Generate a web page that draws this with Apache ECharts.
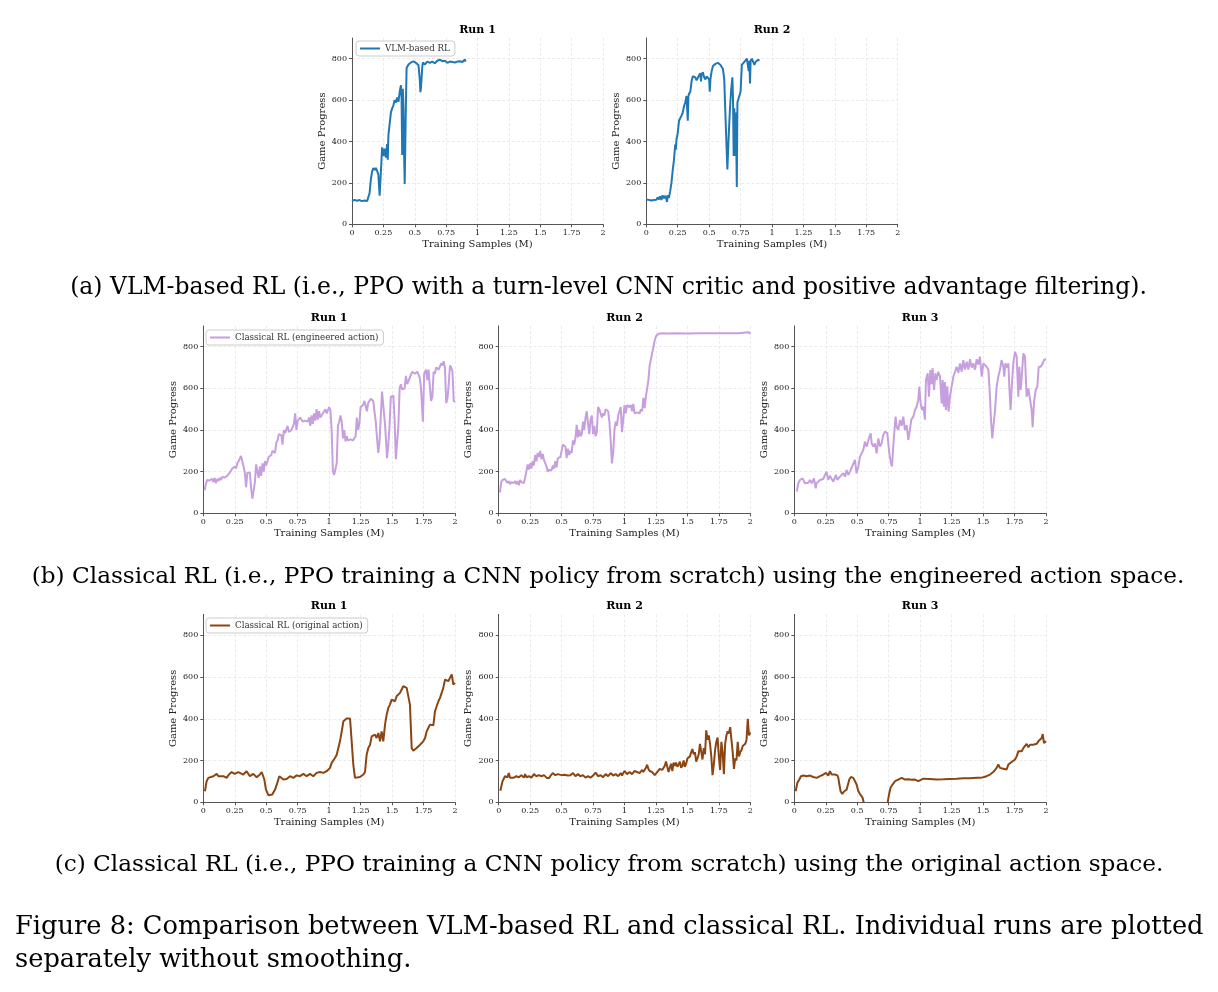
<!DOCTYPE html>
<html>
<head>
<meta charset="utf-8">
<script src="https://cdn.jsdelivr.net/npm/echarts@6/dist/echarts.min.js"></script>
<style>
html,body{margin:0;padding:0;background:#fff;}
#main{width:1218px;height:992px;}
</style>
</head>
<body>
<div id="main"></div>
<script>
// ---- data: [training samples (M), game progress] ----
var vlmRun1 = [[0,113],[0.02,118],[0.04,114],[0.06,117],[0.08,112],[0.10,115],[0.12,112],[0.13,118],[0.14,150],[0.15,215],[0.16,255],[0.17,272],[0.18,262],[0.19,272],[0.20,258],[0.21,240],[0.22,138],[0.23,250],[0.24,372],[0.25,330],[0.26,365],[0.27,322],[0.28,388],[0.285,312],[0.29,430],[0.30,485],[0.31,540],[0.32,560],[0.33,575],[0.34,600],[0.35,588],[0.36,612],[0.37,592],[0.38,640],[0.39,672],[0.395,610],[0.40,335],[0.405,655],[0.41,560],[0.415,340],[0.42,195],[0.43,600],[0.435,755],[0.45,772],[0.47,782],[0.49,787],[0.51,780],[0.53,768],[0.54,700],[0.545,638],[0.55,662],[0.56,762],[0.565,782],[0.58,772],[0.60,786],[0.62,780],[0.64,786],[0.66,778],[0.68,790],[0.70,795],[0.72,788],[0.74,790],[0.76,780],[0.78,786],[0.80,784],[0.82,782],[0.84,786],[0.86,788],[0.88,784],[0.90,796],[0.905,786]];
var vlmRun2 = [[0,120],[0.02,118],[0.04,115],[0.06,117],[0.08,118],[0.09,130],[0.10,120],[0.11,135],[0.12,118],[0.13,140],[0.14,125],[0.15,138],[0.16,122],[0.165,108],[0.17,140],[0.18,128],[0.19,160],[0.20,200],[0.21,260],[0.22,310],[0.23,385],[0.235,360],[0.24,410],[0.25,440],[0.26,500],[0.27,505],[0.28,525],[0.29,540],[0.30,570],[0.31,590],[0.32,620],[0.325,560],[0.33,500],[0.335,620],[0.34,630],[0.35,640],[0.36,690],[0.37,715],[0.38,720],[0.39,710],[0.40,695],[0.41,700],[0.42,720],[0.43,730],[0.435,690],[0.44,725],[0.45,735],[0.46,710],[0.47,700],[0.48,715],[0.49,710],[0.50,700],[0.505,640],[0.51,700],[0.52,740],[0.53,765],[0.55,775],[0.57,780],[0.59,770],[0.61,750],[0.62,700],[0.63,520],[0.645,265],[0.655,420],[0.665,550],[0.675,650],[0.685,710],[0.69,600],[0.695,330],[0.70,560],[0.705,330],[0.71,540],[0.715,430],[0.72,180],[0.725,590],[0.74,620],[0.75,640],[0.76,770],[0.78,785],[0.79,780],[0.80,800],[0.81,760],[0.815,740],[0.82,790],[0.825,680],[0.83,790],[0.84,800],[0.85,795],[0.86,770],[0.87,785],[0.88,780],[0.89,795],[0.90,790]];

var engRun1 = [[0.01,110],[0.02,140],[0.03,160],[0.05,158],[0.06,150],[0.07,165],[0.08,150],[0.09,170],[0.10,145],[0.11,165],[0.12,155],[0.13,170],[0.14,160],[0.15,175],[0.17,172],[0.19,180],[0.21,195],[0.23,215],[0.24,210],[0.25,225],[0.26,215],[0.27,240],[0.28,250],[0.29,245],[0.30,275],[0.31,250],[0.32,225],[0.33,195],[0.34,125],[0.35,195],[0.36,200],[0.37,195],[0.38,120],[0.39,70],[0.40,75],[0.41,150],[0.42,235],[0.43,200],[0.44,170],[0.45,225],[0.46,180],[0.47,240],[0.48,200],[0.49,250],[0.50,230],[0.52,270],[0.54,280],[0.55,300],[0.57,290],[0.58,340],[0.59,350],[0.60,380],[0.62,375],[0.63,330],[0.64,400],[0.65,385],[0.67,420],[0.68,390],[0.70,400],[0.72,430],[0.73,480],[0.74,400],[0.75,445],[0.77,460],[0.79,440],[0.81,445],[0.83,440],[0.84,460],[0.85,420],[0.86,470],[0.87,430],[0.88,480],[0.89,445],[0.90,500],[0.91,450],[0.92,490],[0.93,460],[0.95,480],[0.97,500],[0.98,480],[1.00,510],[1.01,495],[1.02,400],[1.03,200],[1.04,185],[1.05,190],[1.06,240],[1.07,420],[1.08,440],[1.09,470],[1.10,440],[1.11,360],[1.12,400],[1.13,345],[1.14,370],[1.15,350],[1.17,355],[1.19,350],[1.21,370],[1.22,460],[1.23,400],[1.24,430],[1.25,510],[1.27,520],[1.28,540],[1.30,490],[1.31,530],[1.33,550],[1.35,540],[1.37,440],[1.39,290],[1.40,340],[1.42,585],[1.43,580],[1.445,420],[1.46,265],[1.47,330],[1.48,420],[1.49,560],[1.51,565],[1.52,450],[1.53,260],[1.54,255],[1.55,420],[1.56,600],[1.57,620],[1.58,595],[1.60,600],[1.61,660],[1.62,620],[1.64,650],[1.66,680],[1.68,670],[1.70,680],[1.72,650],[1.73,600],[1.745,440],[1.755,670],[1.77,690],[1.78,640],[1.79,690],[1.80,610],[1.81,540],[1.82,560],[1.83,680],[1.84,670],[1.85,700],[1.87,690],[1.89,720],[1.90,710],[1.91,730],[1.92,700],[1.93,530],[1.94,550],[1.95,620],[1.96,710],[1.97,700],[1.98,680],[1.99,540],[2.0,535]];
var engRun2 = [[0.01,100],[0.02,150],[0.03,160],[0.05,165],[0.06,160],[0.07,145],[0.08,155],[0.09,140],[0.10,150],[0.12,145],[0.13,155],[0.14,140],[0.15,155],[0.16,135],[0.17,160],[0.18,150],[0.19,155],[0.20,145],[0.21,140],[0.22,200],[0.23,235],[0.24,210],[0.25,240],[0.26,215],[0.27,250],[0.28,230],[0.29,280],[0.30,250],[0.31,290],[0.32,270],[0.33,300],[0.34,260],[0.35,285],[0.36,255],[0.37,250],[0.38,225],[0.39,200],[0.40,210],[0.42,205],[0.43,230],[0.44,215],[0.45,250],[0.46,220],[0.47,265],[0.49,270],[0.50,300],[0.51,330],[0.52,335],[0.53,320],[0.54,265],[0.55,310],[0.56,280],[0.57,300],[0.58,290],[0.59,350],[0.60,330],[0.61,360],[0.62,425],[0.63,365],[0.64,400],[0.65,370],[0.66,380],[0.67,440],[0.68,400],[0.69,460],[0.70,490],[0.71,430],[0.72,380],[0.73,450],[0.74,470],[0.75,380],[0.76,420],[0.77,370],[0.78,390],[0.79,510],[0.80,500],[0.81,480],[0.82,460],[0.83,480],[0.84,470],[0.85,500],[0.86,495],[0.87,490],[0.88,440],[0.89,350],[0.90,240],[0.91,290],[0.92,400],[0.93,440],[0.94,420],[0.95,470],[0.96,490],[0.97,510],[0.98,390],[0.99,450],[1.00,520],[1.01,480],[1.02,520],[1.04,510],[1.05,520],[1.06,490],[1.07,525],[1.08,480],[1.10,485],[1.12,480],[1.13,500],[1.14,490],[1.15,555],[1.16,505],[1.17,560],[1.18,600],[1.19,640],[1.20,710],[1.21,740],[1.22,770],[1.23,765],[1.24,830],[1.25,850],[1.27,862],[1.30,865],[1.35,863],[1.40,865],[1.50,864],[1.60,865],[1.70,865],[1.80,865],[1.90,865],[1.99,870],[2.0,860]];
var engRun3 = [[0.019,104],[0.032,144],[0.045,160],[0.066,168],[0.085,144],[0.111,147],[0.125,160],[0.138,144],[0.156,168],[0.17,120],[0.177,144],[0.204,160],[0.23,165],[0.244,184],[0.257,200],[0.27,160],[0.283,180],[0.297,176],[0.31,152],[0.331,184],[0.342,160],[0.363,176],[0.376,168],[0.389,192],[0.403,176],[0.416,208],[0.429,184],[0.442,200],[0.456,192],[0.482,256],[0.495,192],[0.509,224],[0.522,272],[0.548,304],[0.561,344],[0.575,320],[0.593,360],[0.607,384],[0.615,336],[0.628,320],[0.641,336],[0.654,288],[0.668,360],[0.681,320],[0.694,336],[0.707,376],[0.72,392],[0.739,385],[0.755,288],[0.768,240],[0.776,225],[0.792,370],[0.805,464],[0.813,414],[0.826,400],[0.84,448],[0.853,420],[0.866,464],[0.879,400],[0.893,424],[0.906,352],[0.919,344],[0.93,450],[0.946,464],[0.959,496],[0.972,512],[0.985,544],[0.993,608],[1.004,528],[1.015,496],[1.025,512],[1.038,450],[1.046,640],[1.06,672],[1.07,560],[1.081,688],[1.091,620],[1.099,696],[1.11,592],[1.121,672],[1.131,640],[1.144,680],[1.158,656],[1.171,528],[1.179,640],[1.189,512],[1.197,630],[1.205,496],[1.216,610],[1.226,488],[1.237,560],[1.25,608],[1.264,656],[1.277,680],[1.29,704],[1.303,675],[1.317,720],[1.33,680],[1.343,736],[1.356,690],[1.37,728],[1.383,690],[1.396,740],[1.409,700],[1.422,720],[1.436,690],[1.449,740],[1.462,715],[1.475,752],[1.489,656],[1.502,720],[1.515,728],[1.528,704],[1.542,690],[1.555,560],[1.563,448],[1.573,360],[1.581,352],[1.595,496],[1.608,608],[1.621,656],[1.634,688],[1.647,736],[1.661,704],[1.669,656],[1.677,720],[1.687,700],[1.701,720],[1.709,600],[1.719,496],[1.727,600],[1.74,720],[1.754,776],[1.767,752],[1.78,560],[1.788,704],[1.799,592],[1.809,672],[1.82,768],[1.833,752],[1.846,560],[1.86,600],[1.873,600],[1.886,496],[1.894,414],[1.905,536],[1.918,592],[1.931,608],[1.942,704],[1.958,704],[1.974,720],[1.984,736],[1.995,744],[2.0,740]];

var origRun1 = [[0.013,53],[0.026,100],[0.04,117],[0.053,125],[0.08,125],[0.106,136],[0.12,125],[0.133,130],[0.16,125],[0.185,117],[0.2,130],[0.225,145],[0.25,136],[0.278,145],[0.29,152],[0.318,133],[0.344,149],[0.37,125],[0.397,136],[0.424,120],[0.45,133],[0.464,145],[0.477,152],[0.485,109],[0.498,61],[0.517,34],[0.53,26],[0.548,37],[0.57,61],[0.588,93],[0.604,125],[0.615,117],[0.636,109],[0.662,112],[0.689,125],[0.715,117],[0.742,129],[0.768,125],[0.795,136],[0.821,125],[0.848,136],[0.874,125],[0.9,141],[0.927,145],[0.954,141],[0.98,149],[0.993,157],[1.007,165],[1.02,189],[1.033,180],[1.046,212],[1.06,228],[1.073,260],[1.086,292],[1.1,340],[1.113,388],[1.126,396],[1.139,401],[1.152,404],[1.166,401],[1.179,292],[1.192,180],[1.205,117],[1.219,113],[1.245,121],[1.272,133],[1.285,145],[1.298,228],[1.311,260],[1.325,276],[1.338,316],[1.351,308],[1.364,324],[1.377,308],[1.391,332],[1.404,292],[1.417,340],[1.43,292],[1.444,372],[1.457,420],[1.47,452],[1.483,468],[1.497,492],[1.51,500],[1.523,484],[1.536,508],[1.55,516],[1.563,524],[1.576,540],[1.589,556],[1.603,564],[1.616,548],[1.629,551],[1.642,468],[1.656,260],[1.669,247],[1.682,244],[1.695,260],[1.709,252],[1.722,276],[1.735,268],[1.748,292],[1.762,308],[1.775,340],[1.788,356],[1.801,372],[1.815,372],[1.828,369],[1.841,436],[1.854,444],[1.868,484],[1.881,500],[1.894,524],[1.907,548],[1.921,588],[1.934,596],[1.947,580],[1.96,596],[1.974,612],[1.987,564],[2.0,572]];
var origRun2 = [[0.013,55],[0.03,100],[0.05,125],[0.07,120],[0.08,140],[0.09,118],[0.10,125],[0.12,118],[0.14,125],[0.16,120],[0.18,130],[0.20,118],[0.21,135],[0.22,120],[0.24,125],[0.26,118],[0.28,135],[0.30,125],[0.32,130],[0.34,125],[0.36,130],[0.38,118],[0.40,115],[0.41,125],[0.43,140],[0.45,130],[0.47,135],[0.50,130],[0.52,132],[0.55,128],[0.57,130],[0.59,140],[0.61,125],[0.63,135],[0.65,125],[0.67,130],[0.69,118],[0.71,125],[0.73,118],[0.75,128],[0.77,142],[0.79,125],[0.81,130],[0.83,120],[0.85,135],[0.87,125],[0.89,140],[0.91,128],[0.93,135],[0.95,125],[0.97,140],[0.98,128],[1.00,150],[1.02,135],[1.04,145],[1.06,135],[1.08,150],[1.10,145],[1.12,140],[1.14,155],[1.15,145],[1.17,165],[1.18,180],[1.19,160],[1.20,150],[1.22,145],[1.24,130],[1.25,125],[1.26,145],[1.28,160],[1.30,155],[1.32,175],[1.33,195],[1.34,170],[1.35,145],[1.36,165],[1.37,185],[1.38,150],[1.39,190],[1.40,175],[1.41,190],[1.42,170],[1.43,180],[1.44,195],[1.45,165],[1.46,175],[1.47,200],[1.48,170],[1.49,185],[1.50,210],[1.51,215],[1.52,220],[1.53,240],[1.54,255],[1.55,230],[1.56,240],[1.57,195],[1.58,210],[1.59,230],[1.60,280],[1.61,280],[1.62,205],[1.63,260],[1.64,230],[1.65,345],[1.66,300],[1.67,320],[1.68,280],[1.69,220],[1.70,130],[1.71,180],[1.72,250],[1.73,290],[1.74,310],[1.75,220],[1.76,155],[1.77,290],[1.78,240],[1.79,135],[1.80,280],[1.81,320],[1.82,340],[1.83,330],[1.84,360],[1.85,300],[1.86,240],[1.87,160],[1.88,210],[1.89,200],[1.90,290],[1.91,220],[1.92,240],[1.93,250],[1.94,270],[1.95,265],[1.96,280],[1.97,300],[1.98,400],[1.99,320],[2.0,335]];
var origRun3 = [[0.011,53],[0.024,93],[0.04,109],[0.053,125],[0.072,128],[0.098,125],[0.125,128],[0.151,121],[0.177,117],[0.204,125],[0.23,133],[0.252,141],[0.27,128],[0.283,149],[0.297,133],[0.323,133],[0.342,129],[0.35,117],[0.358,85],[0.368,53],[0.381,40],[0.397,53],[0.416,61],[0.429,69],[0.437,109],[0.45,121],[0.469,117],[0.482,109],[0.495,85],[0.509,53],[0.522,40],[0.535,45],[0.543,21],[0.551,0],[0.65,null],[0.742,0],[0.755,45],[0.766,72],[0.781,85],[0.8,101],[0.826,109],[0.853,117],[0.88,109],[0.906,110],[0.932,108],[0.959,109],[0.985,101],[0.999,109],[1.025,113],[1.078,112],[1.131,109],[1.184,110],[1.237,112],[1.29,113],[1.343,115],[1.396,115],[1.449,117],[1.475,117],[1.502,120],[1.528,125],[1.555,133],[1.581,145],[1.608,165],[1.621,181],[1.634,165],[1.661,161],[1.687,157],[1.701,181],[1.714,173],[1.727,193],[1.74,189],[1.754,205],[1.767,220],[1.78,244],[1.793,248],[1.807,244],[1.82,260],[1.833,268],[1.846,280],[1.86,264],[1.873,276],[1.886,268],[1.899,276],[1.913,276],[1.926,280],[1.939,292],[1.952,284],[1.966,308],[1.974,327],[1.984,284],[1.995,276],[2.0,292]];

var yTicks = [0, 200, 400, 600, 800];
var runTitles = ['Run 1', 'Run 2', 'Run 3'];
var legendNames = ['VLM-based RL', 'Classical RL (engineered action)', 'Classical RL (original action)'];
var captionA = '(a) VLM-based RL (i.e., PPO with a turn-level CNN critic and positive advantage filtering).';
var captionB = '(b) Classical RL (i.e., PPO training a CNN policy from scratch) using the engineered action space.';
var captionC = '(c) Classical RL (i.e., PPO training a CNN policy from scratch) using the original action space.';
var figCaption1 = 'Figure 8: Comparison between VLM-based RL and classical RL. Individual runs are plotted';
var figCaption2 = 'separately without smoothing.';

var lineColors = ['#1f77b4', '#c79fdf', '#8b4513'];
var serif = '"DejaVu Serif", serif';
var capFont = '"DejaVu Serif", serif';

// panel layout (pixels): left, top, width, height, row, run index, data
var panels = [
	{left: 352, top: 38, w: 251, h: 186.3, row: 0, run: 0, data: vlmRun1},
	{left: 646.3, top: 38, w: 251.4, h: 186.3, row: 0, run: 1, data: vlmRun2},
	{left: 203.3, top: 325.9, w: 251.7, h: 187.4, row: 1, run: 0, data: engRun1},
	{left: 498.7, top: 325.9, w: 251.6, h: 187.4, row: 1, run: 1, data: engRun2},
	{left: 794.3, top: 325.9, w: 251.7, h: 187.4, row: 1, run: 2, data: engRun3},
	{left: 203.3, top: 614.4, w: 251.7, h: 187.9, row: 2, run: 0, data: origRun1},
	{left: 498.7, top: 614.4, w: 251.6, h: 187.9, row: 2, run: 1, data: origRun2},
	{left: 794.3, top: 614.4, w: 251.7, h: 187.9, row: 2, run: 2, data: origRun3}
];

var grids = [], xAxes = [], yAxes = [], series = [], graphics = [];
var axisColor = '#555';
var gridLineStyle = {color: '#e6e6e6', width: 0.8, type: [3, 2]};

panels.forEach(function(p, i){
	grids.push({left: p.left, top: p.top, width: p.w, height: p.h});
	xAxes.push({
		type: 'value', gridIndex: i, min: 0, max: 2, interval: 0.25,
		name: 'Training Samples (M)', nameLocation: 'middle', nameGap: 15,
		nameTextStyle: {fontFamily: serif, fontSize: 10, color: '#222'},
		axisLine: {show: true, onZero: false, lineStyle: {color: axisColor, width: 1}},
		axisTick: {show: true, length: 3, lineStyle: {color: axisColor}},
		axisLabel: {fontFamily: serif, fontSize: 8, color: '#222', margin: 5,
			formatter: function(v){ return String(v); }},
		splitLine: {show: true, lineStyle: gridLineStyle}
	});
	yAxes.push({
		type: 'value', gridIndex: i, min: 0, max: 900, interval: 200,
		name: 'Game Progress', nameLocation: 'middle', nameGap: 25,
		nameTextStyle: {fontFamily: serif, fontSize: 10, color: '#222'},
		axisLine: {show: true, onZero: false, lineStyle: {color: axisColor, width: 1}},
		axisTick: {show: true, length: 3, customValues: yTicks, lineStyle: {color: axisColor}},
		axisLabel: {fontFamily: serif, fontSize: 8, color: '#222', margin: 5, customValues: yTicks,
			formatter: function(v){ return v > 800 ? '' : String(v); }},
		splitLine: {show: true, lineStyle: gridLineStyle}
	});
	series.push({
		type: 'line', name: legendNames[p.row], xAxisIndex: i, yAxisIndex: i,
		data: p.data, symbol: 'none', showSymbol: false, connectNulls: false, clip: true,
		lineStyle: {color: lineColors[p.row], width: 2},
		itemStyle: {color: lineColors[p.row]},
		emphasis: {disabled: true}
	});
	graphics.push({
		type: 'text', x: p.left + p.w / 2, y: p.top - 8,
		style: {text: runTitles[p.run], font: 'bold 11px ' + serif, fill: '#000',
			align: 'center', verticalAlign: 'middle', textAlign: 'center', textVerticalAlign: 'middle'}
	});
});

// captions
function caption(text, x, y, size, align){
	return {
		type: 'text', x: x, y: y,
		style: {text: text, font: size + 'px ' + capFont, fill: '#000',
			align: align, verticalAlign: 'middle', textAlign: align, textVerticalAlign: 'middle'}
	};
}
graphics.push(caption(captionA, 608.5, 288, 23.5, 'center'));
graphics.push(caption(captionB, 608, 577, 23.2, 'center'));
graphics.push(caption(captionC, 609, 865, 23.2, 'center'));
graphics.push(caption(figCaption1, 15, 927, 25.7, 'left'));
graphics.push(caption(figCaption2, 15, 960, 25.7, 'left'));

var legendBase = {
	orient: 'horizontal', selectedMode: false,
	backgroundColor: 'rgba(255,255,255,0.85)',
	borderColor: '#cccccc', borderWidth: 1, borderRadius: 3,
	padding: [3, 5, 3, 4], icon: 'rect', itemWidth: 20, itemHeight: 2, itemGap: 5,
	textStyle: {fontFamily: serif, fontSize: 8.7, color: '#333'}
};
var legends = [
	Object.assign({}, legendBase, {left: 356, top: 41, data: [legendNames[0]]}),
	Object.assign({}, legendBase, {left: 206, top: 330, data: [legendNames[1]]}),
	Object.assign({}, legendBase, {left: 206, top: 618, data: [legendNames[2]]})
];

var chart = echarts.init(document.getElementById('main'), null, {renderer: 'canvas'});
chart.setOption({
	backgroundColor: '#ffffff',
	animation: false,
	grid: grids,
	xAxis: xAxes,
	yAxis: yAxes,
	legend: legends,
	series: series,
	graphic: graphics
});
</script>
</body>
</html>
